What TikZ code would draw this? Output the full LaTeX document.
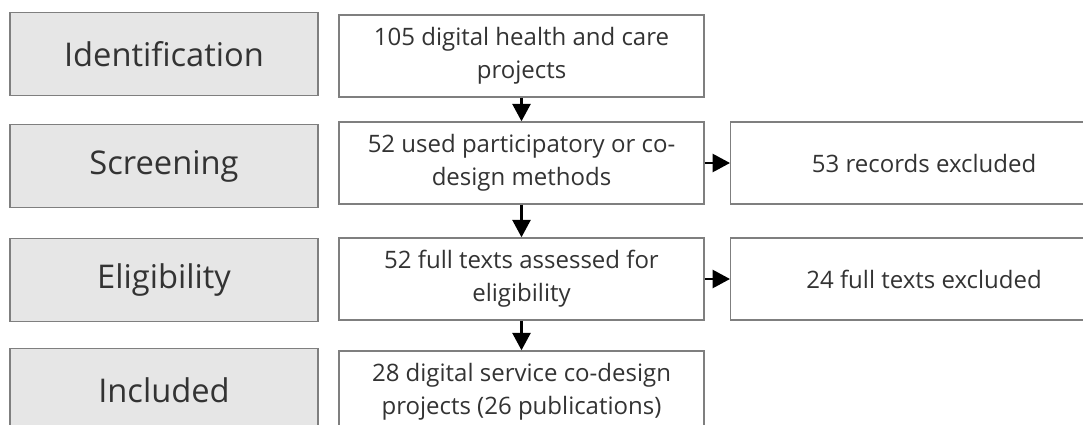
\documentclass[tikz,border=0pt]{standalone}
\usepackage{fontspec}
\setmainfont{Open Sans}
\usepackage{tikz}
\usetikzlibrary{positioning,arrows.meta}
\definecolor{stagegrey}{HTML}{E6E6E6}
\definecolor{edgegrey}{HTML}{7F7F7F}
\definecolor{textgrey}{HTML}{333333}

\begin{document}
\begin{tikzpicture}[x=0.75pt, y=-0.75pt,
    stage/.style={draw=edgegrey, line width=1.1pt, fill=stagegrey,
      minimum width=231pt, minimum height=62pt, inner sep=0pt,
      text=textgrey, font=\fontsize{24.5}{30}\selectfont},
    flowbox/.style={draw=edgegrey, line width=1.1pt, fill=white,
      minimum width=274pt, minimum height=61.5pt, inner sep=0pt, align=center,
      text=textgrey, font=\fontsize{18}{24.5}\selectfont},
    outbox/.style={flowbox, minimum width=290pt, anchor=west},
    flow/.style={line width=1.8pt, -{Triangle[width=13.5pt, length=13pt]}}]
  \useasboundingbox (0,0) rectangle (1083,425);
  \clip (0,0) rectangle (1083,425);

  % phases on the left
  \node[stage] (ident)  at (164,54)  {Identification};
  \node[stage] (screen) at (164,166) {Screening};
  \node[stage] (elig)   at (164,280) {Eligibility};
  \node[stage] (incl)   at (164,390) {Included};

  % records at each phase
  \node[flowbox] (projects) at (521.5,56)  {105 digital health and care\\projects};
  \node[flowbox] (codesign) at (521.5,163) {52 used participatory or co-\\design methods};
  \node[flowbox] (fulltext) at (521.5,279) {52 full texts assessed for\\eligibility};
  \node[flowbox] (included) at (521.5,392) {28 digital service co-design\\projects (26 publications)};

  % exclusions
  \node[outbox] (recexcl)  at (730,163) {53 records excluded};
  \node[outbox] (fullexcl) at (730,279) {24 full texts excluded};

  \draw[flow] (projects) -- (codesign);
  \draw[flow] (codesign) -- (fulltext);
  \draw[flow] (fulltext) -- (included);
  \draw[flow] (codesign) -- (recexcl);
  \draw[flow] (fulltext) -- (fullexcl);
\end{tikzpicture}
\end{document}
